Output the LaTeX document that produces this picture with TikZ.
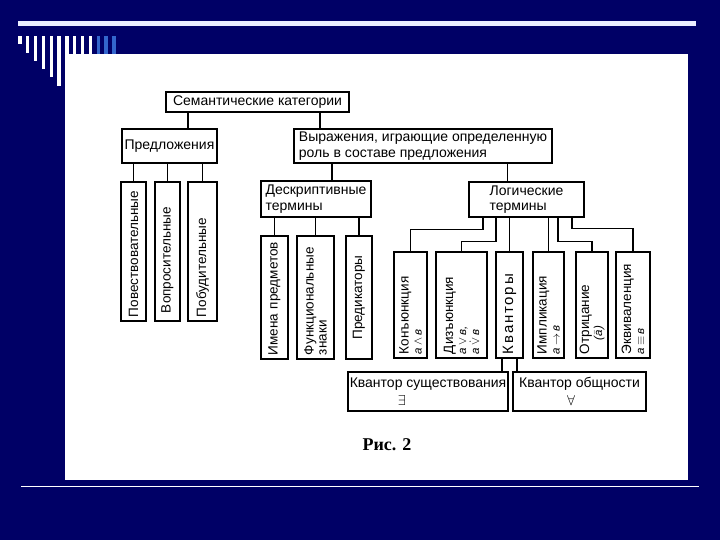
\documentclass[tikz,border=0pt]{standalone}
\usepackage{amsmath}
\usepackage{fontspec}
\setmainfont{Liberation Sans}
\newfontfamily\capfont{Liberation Serif}
\definecolor{slidenavy}{RGB}{0,0,102}
\definecolor{barblue}{RGB}{51,102,204}
\definecolor{linepale}{RGB}{235,238,255}
\newcommand{\fml}[1]{{\fontsize{11.5}{13}\selectfont\itshape #1}}

\begin{document}
\begin{tikzpicture}[x=1pt, y=-1pt,
        box/.style={draw, line width=1.4pt, align=left, inner sep=0pt, font=\fontsize{14}{15.5}\selectfont},
        vbox/.style={draw, line width=1.4pt, rotate=90, align=left, inner xsep=4pt, inner ysep=0pt, font=\fontsize{13.5}{13}\selectfont},
        link/.style={line width=1.2pt}]
        \useasboundingbox (0,0) rectangle (720,540);
        \fill[slidenavy] (0,0) rectangle (720,540);
        \fill[linepale] (18,21) rectangle (696,26);
        \foreach \i in {1,...,13} {
            \pgfmathsetmacro{\bx}{18.3+7.83*(\i-1)}
            \pgfmathsetmacro{\by}{36+8.3*\i}
            \ifnum\i>10 \def\bc{barblue}\else\def\bc{white}\fi
            \fill[\bc] (\bx,36) rectangle (\bx+3.3,\by);
        }
        \fill[white] (65,54.5) rectangle (688,480);
        \fill[white] (21,485.5) rectangle (699,487.3);
        \node[box, minimum width=183pt, minimum height=20pt] (sem) at (257.5, 102) {Семантические категории};
        \node[box, minimum width=95pt, minimum height=34pt] (pred) at (169.5, 146) {Предложения};
        \node[box, minimum width=258pt, minimum height=34pt] (vyr) at (423, 146) {Выражения, играющие определенную\\роль в составе предложения};
        \node[box, minimum width=110pt, minimum height=36pt] (desk) at (316, 199) {Дескриптивные\\термины};
        \node[box, minimum width=115pt, minimum height=35pt] (log) at (526.5, 199.5) {Логические\\термины};
        \node[vbox, text width=131pt, minimum height=25pt] (pov) at (133.5, 251.5) {Повествовательные};
        \node[vbox, text width=131pt, minimum height=25pt] (vop) at (167.5, 251.5) {\hspace*{4pt}Вопросительные};
        \node[vbox, text width=131pt, minimum height=29pt] (pob) at (202.5, 251.5) {Побудительные};
        \node[vbox, text width=115pt, minimum height=27pt] (imena) at (274.5, 297.5) {Имена предметов};
        \node[vbox, text width=115pt, minimum height=37pt] (funk) at (315.5, 297.5) {Функциональные\\знаки};
        \node[vbox, text width=115pt, minimum height=26pt, align=center] (predik) at (359, 297.5) {Предикаторы};
        \node[vbox, text width=98pt, minimum height=33pt] (konj) at (410.5, 305) {Конъюнкция\\\fml{а\,$\wedge$\,в}};
        \node[vbox, text width=98pt, minimum height=51pt] (disj) at (461.5, 305) {Дизъюнкция\\\fml{а\,$\vee$\,в,}\\\fml{а\,$\dot\vee$\,в}};
        \node[vbox, text width=98pt, minimum height=27pt, font=\fontsize{15}{15}\selectfont\addfontfeatures{LetterSpace=12}] (kvant) at (509.5, 305) {Кванторы};
        \node[vbox, text width=98pt, minimum height=31pt] (impl) at (548.5, 305) {Импликация\\\fml{а\,$\to$\,в}};
        \node[vbox, text width=98pt, minimum height=32pt] (otr) at (592, 305) {Отрицание\\\hspace*{14pt}\fml{($\bar{\text{а}}$)}};
        \node[vbox, text width=98pt, minimum height=34pt] (ekv) at (633, 305) {Эквиваленция\\\fml{а\,$\equiv$\,в}};
        \node[box, minimum width=160pt, minimum height=39pt] (sush) at (428, 391.5) {Квантор существования\\[3pt]\hspace*{48pt}$\exists$};
        \node[box, minimum width=133pt, minimum height=39pt] (obsh) at (579.5, 391.5) {Квантор общности\\[3pt]\hspace*{48pt}$\forall$};
        \node[font={\fontsize{18}{20}\capfont\bfseries}] (cap) at (387, 445) {Рис. 2};
        \draw[link] ([xshift=18.5pt]pred.north) -- ([xshift=18.5pt]pred.north |- sem.south);
        \draw[link] ([xshift=-103pt]vyr.north) -- ([xshift=-103pt]vyr.north |- sem.south);
        \draw[link] ([xshift=16pt]desk.north) -- ([xshift=16pt]desk.north |- vyr.south);
        \draw[link] ([xshift=-19pt]log.north) -- ([xshift=-19pt]log.north |- vyr.south);
        \foreach \n in {pov,vop,pob} \draw[link] (\n.east) -- (\n.east |- pred.south);
        \foreach \n in {imena,funk,predik} \draw[link] (\n.east) -- (\n.east |- desk.south);
        \draw[link] ([xshift=-43.5pt]log.south) -- ++(0,12) -| (konj.east);
        \draw[link] ([xshift=-30.5pt]log.south) -- ++(0,24) -| (disj.east);
        \draw[link] (kvant.east) -- (kvant.east |- log.south);
        \draw[link] (impl.east) -- (impl.east |- log.south);
        \draw[link] ([xshift=31.5pt]log.south) -- ++(0,24) -| (otr.east);
        \draw[link] ([xshift=45.5pt]log.south) -- ++(0,11) -| (ekv.east);
        \draw[link] ([xshift=-7.5pt]kvant.west) -- ([xshift=-7.5pt]kvant.west |- sush.north);
        \draw[link] ([xshift=7.5pt]kvant.west) -- ([xshift=7.5pt]kvant.west |- obsh.north);
    \end{tikzpicture}
\end{document}
